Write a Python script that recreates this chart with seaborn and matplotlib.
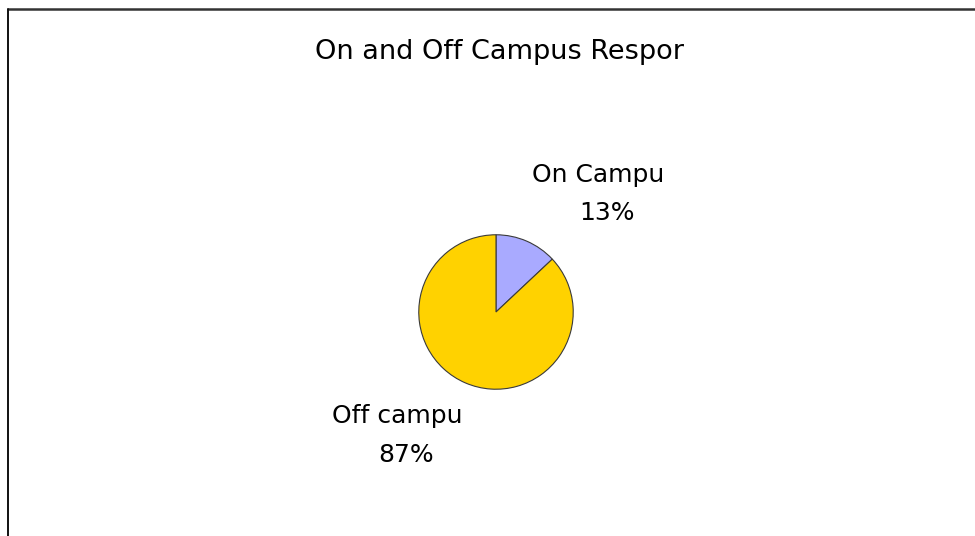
import matplotlib
matplotlib.use("Agg")
import matplotlib.pyplot as plt
import seaborn as sns
from matplotlib.lines import Line2D

categories = ["On Campu", "Off campu"]
values = [13, 87]
pct_labels = ["13%", "87%"]
title_text = "On and Off Campus Respor"
colors = ["#A9AAFF", "#FFD200"]

sns.set_theme(style="white")
plt.rcParams['font.family'] = ['DejaVu Sans']

W, H = 975, 536
fig = plt.figure(figsize=(W / 100, H / 100), dpi=100)
fig.patch.set_facecolor("white")

def fx(x):
    return x / W

def fy(y):
    return 1 - y / H

# pie axes
cx, cy, r = 496, 312, 78
ax = fig.add_axes([fx(cx - r), fy(cy + r), 2 * r / W, 2 * r / H])
ax.pie(values, colors=colors, startangle=90, counterclock=False,
       wedgeprops=dict(edgecolor="#3a3a3a", linewidth=0.8))
ax.set_xlim(-1.01, 1.01)
ax.set_ylim(-1.01, 1.01)
ax.set_aspect("equal")
ax.axis("off")

# border
fig.add_artist(Line2D([fx(8), fx(W)], [fy(9), fy(9)], color="#333333", lw=1.8,
                      transform=fig.transFigure))
fig.add_artist(Line2D([fx(8), fx(8)], [fy(9), fy(H)], color="#111111", lw=1.4,
                      transform=fig.transFigure))

fig.text(fx(500), fy(52), title_text, ha="center", va="center", fontsize=19.5, color="black")
fs = 18
fig.text(fx(598), fy(175), categories[0], ha="center", va="center", fontsize=fs, color="black")
fig.text(fx(607), fy(213), pct_labels[0], ha="center", va="center", fontsize=fs, color="black")
fig.text(fx(397), fy(416), categories[1], ha="center", va="center", fontsize=fs, color="black")
fig.text(fx(406), fy(455), pct_labels[1], ha="center", va="center", fontsize=fs, color="black")

fig.savefig("out.png", dpi=100, facecolor="white")
